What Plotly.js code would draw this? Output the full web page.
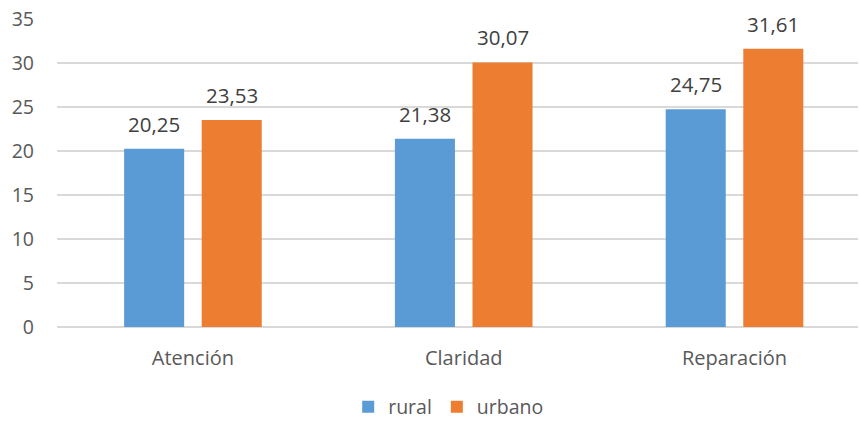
<!DOCTYPE html>
<html><head><meta charset="utf-8">
<script src="https://cdn.plot.ly/plotly-3.0.1.min.js"></script>
<style>body{margin:0;background:#fff}#c{width:859px;height:421px}</style>
</head><body><div id="c"></div>
<script>
const categories = ["Atención", "Claridad", "Reparación"];
const rural = [20.25, 21.38, 24.75];
const urbano = [23.53, 30.07, 31.61];
const seriesNames = ["rural", "urbano"];
const yTicks = [0, 5, 10, 15, 20, 25, 30, 35];

const font = "Open Sans, Noto Sans, sans-serif";
const colors = ["#5B9BD5", "#ED7D31"];
const series = [rural, urbano];
const bargap = 0.427, bargroupgap = 0.226;
const slot = (1 - bargap) / 2;

const data = series.map((vals, i) => ({
  type: "bar", name: seriesNames[i], x: categories, y: vals,
  marker: {color: colors[i]}, hoverinfo: "none"
}));

const annotations = [];
series.forEach((vals, i) => {
  vals.forEach((v, j) => {
    annotations.push({
      xref: "x", yref: "y", x: j + (i - 0.5) * slot, y: v,
      text: v.toFixed(2).replace(".", ","), showarrow: false,
      yanchor: "middle", yshift: 25,
      font: {family: font, size: 20.5, color: "#404040"}
    });
  });
});

const layout = {
  width: 859, height: 421,
  margin: {l: 57, r: 1, t: 19, b: 94, autoexpand: false},
  paper_bgcolor: "#fff", plot_bgcolor: "#fff",
  barmode: "group", bargap: bargap, bargroupgap: bargroupgap,
  font: {family: font, color: "#595959", size: 20},
  xaxis: {type: "category", range: [-0.502, 2.456], automargin: false, showgrid: false, zeroline: false, showline: false, ticks: "",
          tickfont: {size: 20, color: "#595959"}, ticklabelstandoff: 17},
  yaxis: {range: [0, 35], tickvals: yTicks, automargin: false, showgrid: true, gridcolor: "#D9D9D9", gridwidth: 1.3,
          zeroline: true, zerolinecolor: "#D9D9D9", zerolinewidth: 1.3, showline: false, ticks: "",
          tickfont: {size: 19.5, color: "#595959"}, ticklabelstandoff: 22},
  showlegend: true,
  legend: {orientation: "h", x: 0.489, xanchor: "center", y: -0.26, yanchor: "middle",
           font: {size: 19.5, color: "#595959"}, traceorder: "normal"},
  annotations: annotations
};
Plotly.newPlot("c", data, layout, {displayModeBar: false, staticPlot: true});
</script></body></html>
